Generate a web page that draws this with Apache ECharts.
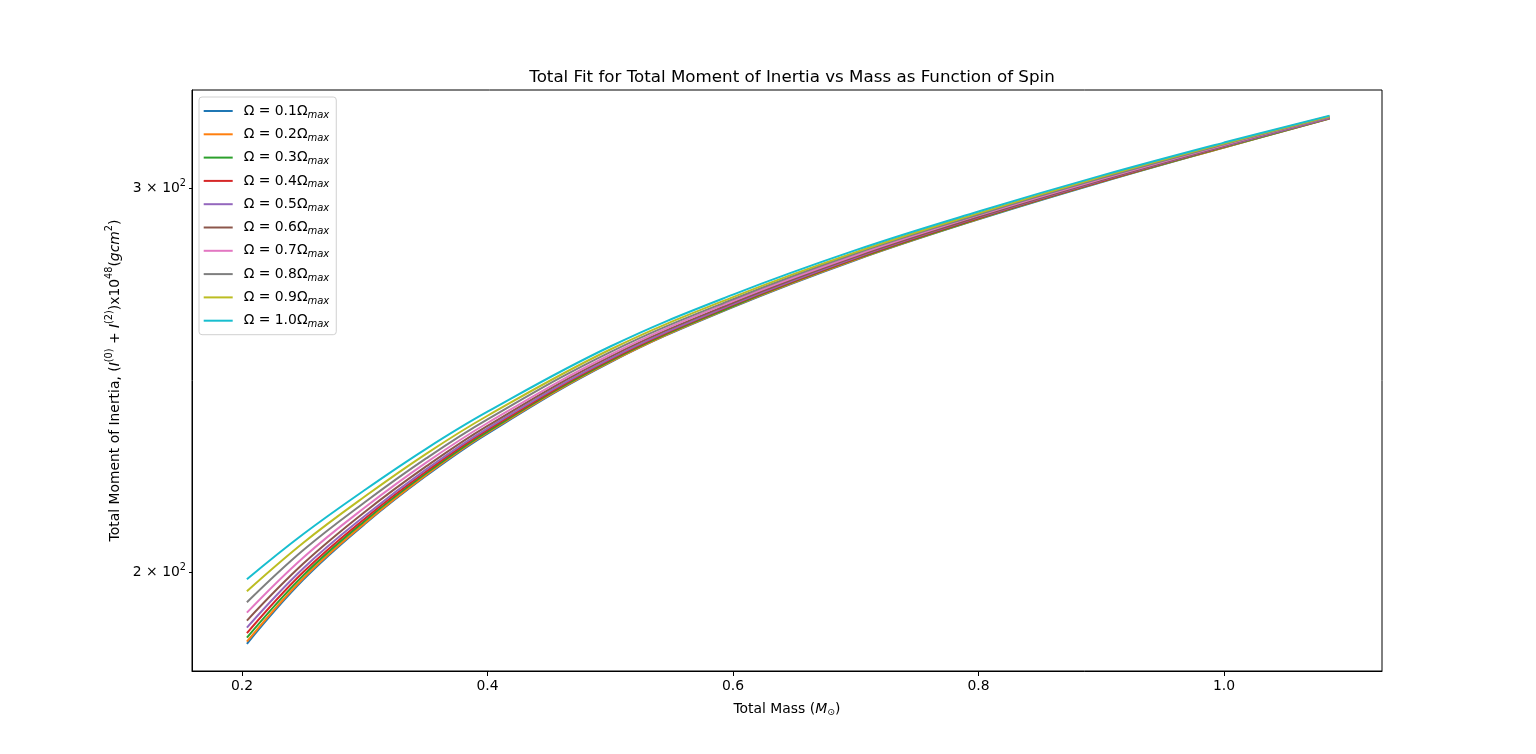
<!DOCTYPE html>
<html>
<head>
<meta charset="utf-8">
<script src="https://cdn.jsdelivr.net/npm/echarts@6/dist/echarts.min.js"></script>
<style>
html,body{margin:0;padding:0;background:#fff;}
#chart{width:1536px;height:754px;}
</style>
</head>
<body>
<div id="chart"></div>
<script>
// Total mass (M_sun) sample points
const mass = [0.204, 0.25, 0.3, 0.35, 0.4, 0.5, 0.6, 0.7, 0.8, 0.9, 1.0, 1.086];
// Total moment of inertia (x10^48 g cm^2) for each spin fraction
const omega01 = [185.5, 198.5, 210.5, 221.5, 231.6, 249.7, 264.7, 278.2, 290.4, 302.0, 313.3, 323.0];
const omega02 = [185.9, 198.8, 210.7, 221.7, 231.8, 249.8, 264.8, 278.3, 290.5, 302.1, 313.3, 323.0];
const omega03 = [186.7, 199.4, 211.2, 222.1, 232.1, 250.1, 265.0, 278.5, 290.6, 302.2, 313.4, 323.1];
const omega04 = [187.6, 200.1, 211.7, 222.5, 232.5, 250.4, 265.3, 278.7, 290.8, 302.3, 313.6, 323.2];
const omega05 = [188.7, 200.9, 212.3, 223.0, 232.9, 250.7, 265.5, 278.9, 291.0, 302.5, 313.7, 323.2];
const omega06 = [190.1, 201.9, 213.2, 223.7, 233.5, 251.2, 265.9, 279.2, 291.2, 302.7, 313.9, 323.4];
const omega07 = [191.7, 203.2, 214.2, 224.6, 234.2, 251.7, 266.4, 279.6, 291.6, 303.0, 314.1, 323.5];
const omega08 = [193.8, 204.8, 215.4, 225.6, 235.1, 252.4, 266.9, 280.1, 291.9, 303.3, 314.3, 323.6];
const omega09 = [196.1, 206.4, 216.7, 226.7, 236.0, 253.1, 267.5, 280.5, 292.3, 303.7, 314.6, 323.8];
const omega10 = [198.6, 208.3, 218.2, 227.9, 237.0, 253.9, 268.2, 281.1, 292.8, 304.1, 314.9, 324.0];
const spins = ['0.1','0.2','0.3','0.4','0.5','0.6','0.7','0.8','0.9','1.0'];
const xTicks = [0.2, 0.4, 0.6, 0.8, 1.0];
const yTicks = [200, 300];
const yTickLabels = ['2', '3'];

const allSeries = [omega01, omega02, omega03, omega04, omega05, omega06, omega07, omega08, omega09, omega10];
const colors = ['#1f77b4','#ff7f0e','#2ca02c','#d62728','#9467bd','#8c564b','#e377c2','#7f7f7f','#bcbd22','#17becf'];
const FONT = 'DejaVu Sans';
const FS = 13.9;

const chart = echarts.init(document.getElementById('chart'), null, {renderer: 'canvas'});
const yLogTicks = yTicks.map(v => Math.log10(v));

const option = {
  backgroundColor: '#fff',
  animation: false,
  textStyle: {fontFamily: FONT, color: '#000'},
  title: {
    text: 'Total Fit for Total Moment of Inertia vs Mass as Function of Spin',
    left: 787, top: 64, textAlign: 'center',
    textStyle: {fontFamily: FONT, fontSize: 16.7, fontWeight: 'normal', color: '#000'}
  },
  grid: {left: 192, right: 154, top: 90, bottom: 83, show: true, borderColor: '#000', borderWidth: 1, backgroundColor: 'transparent'},
  legend: {
    orient: 'vertical', left: 199, top: 97,
    padding: [7, 7, 5, 4.7],
    itemWidth: 29, itemHeight: 2, itemGap: 7.3,
    icon: 'rect',
    backgroundColor: 'rgba(255,255,255,0.8)',
    borderColor: '#d0d0d0', borderWidth: 1, borderRadius: 3,
    data: spins.map(s => 'Ω = ' + s + 'Ω_max'),
    formatter: name => '{n|' + name.split('_')[0] + '}{s|max}',
    textStyle: {
      fontFamily: FONT, fontSize: FS, color: '#000', padding: [0, 0, 0, 6],
      rich: {
        n: {fontFamily: FONT, fontSize: FS, lineHeight: 18, verticalAlign: 'middle', color: '#000'},
        s: {fontFamily: FONT, fontSize: 10, lineHeight: 9, verticalAlign: 'bottom', fontStyle: 'italic', color: '#000'}
      }
    }
  },
  xAxis: {
    type: 'value', min: 0.15927, max: 1.12872,
    name: '{n|Total Mass (}{i|M}{s|⊙}{n|)}',
    nameLocation: 'middle', nameGap: 29,
    nameTextStyle: {
      fontFamily: FONT, fontSize: FS, color: '#000',
      rich: {
        n: {fontFamily: FONT, fontSize: FS, lineHeight: 18, verticalAlign: 'middle', color: '#000'},
        i: {fontFamily: FONT, fontSize: FS, lineHeight: 18, verticalAlign: 'middle', fontStyle: 'italic', color: '#000'},
        s: {fontFamily: FONT, fontSize: 9.5, lineHeight: 9, verticalAlign: 'bottom', color: '#000'}
      }
    },
    axisLine: {show: true, onZero: false, lineStyle: {color: '#000', width: 1}},
    axisTick: {show: true, length: 5, customValues: xTicks, lineStyle: {color: '#000'}},
    axisLabel: {customValues: xTicks, margin: 8, fontFamily: FONT, fontSize: FS, color: '#000', formatter: v => v.toFixed(1)},
    splitLine: {show: false}
  },
  yAxis: {
    type: 'value', min: 2.255861, max: 2.52229,
    name: '{n|Total Moment of Inertia, (}{i|I}{p|(0)}{n| + }{i|I}{p|(2)}{n|)x10}{p|48}{n|(}{i|gcm}{p|2}{n|)}',
    nameLocation: 'middle', nameGap: 63, nameRotate: 90,
    nameTextStyle: {
      fontFamily: FONT, fontSize: FS, color: '#000',
      rich: {
        n: {fontFamily: FONT, fontSize: FS, lineHeight: 20, verticalAlign: 'middle', color: '#000'},
        i: {fontFamily: FONT, fontSize: FS, lineHeight: 20, verticalAlign: 'middle', fontStyle: 'italic', color: '#000'},
        p: {fontFamily: FONT, fontSize: 9.7, lineHeight: 9, verticalAlign: 'top', color: '#000'}
      }
    },
    axisLine: {show: true, onZero: false, lineStyle: {color: '#000', width: 1}},
    axisTick: {show: true, length: 3, customValues: yLogTicks, lineStyle: {color: '#000'}},
    axisLabel: {
      customValues: yLogTicks, margin: 6, fontFamily: FONT, fontSize: FS, color: '#000',
      formatter: v => {
        const idx = yLogTicks.findIndex(t => Math.abs(t - v) < 1e-6);
        return '{m|' + (idx >= 0 ? yTickLabels[idx] : '') + ' × 10}{e|2}';
      },
      rich: {
        m: {fontFamily: FONT, fontSize: FS, lineHeight: 20, verticalAlign: 'middle', color: '#000'},
        e: {fontFamily: FONT, fontSize: 9.7, lineHeight: 9, verticalAlign: 'top', color: '#000'}
      }
    },
    splitLine: {show: false}
  },
  series: allSeries.map((arr, k) => ({
    name: 'Ω = ' + spins[k] + 'Ω_max',
    type: 'line',
    data: mass.map((m, i) => [m, Math.log10(arr[i])]),
    smooth: 0.4,
    symbol: 'none',
    showSymbol: false,
    clip: true,
    lineStyle: {color: colors[k], width: 2},
    itemStyle: {color: colors[k]}
  }))
};
chart.setOption(option);
</script>
</body>
</html>
